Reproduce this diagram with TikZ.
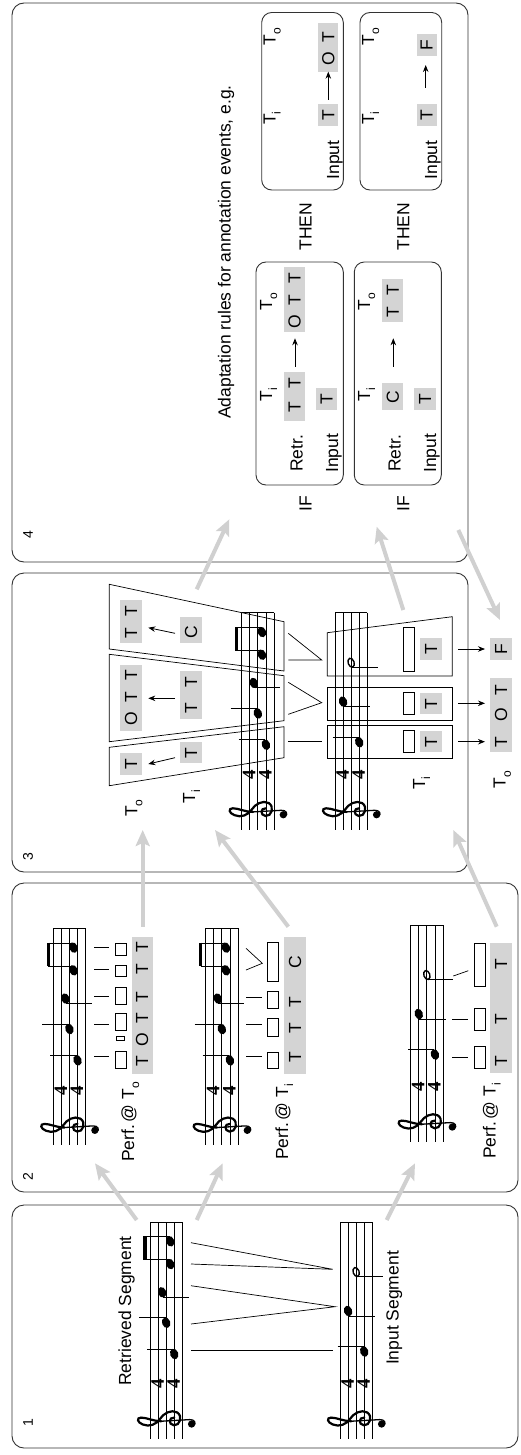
\documentclass[tikz,border=0pt]{standalone}
\usepackage{fontspec}
\setmainfont{Liberation Sans}
\newfontfamily\tsfamily{Liberation Serif}
\usetikzlibrary{arrows.meta}
\definecolor{lgray}{HTML}{D4D4D4}
\definecolor{agray}{HTML}{D0D0D0}
\newcommand{\sbs}[1]{\raisebox{-0.55ex}{\fontsize{12}{12}\selectfont #1}}
\newcommand{\fs}{\fontsize{17.5}{20}\selectfont}
\newcounter{lc}
\tikzset{
 txt/.style={rotate=90, inner sep=0pt, font=\fs},
 btxt/.style={rotate=90, inner sep=0pt, font=\fs, anchor=base},
 num/.style={rotate=90, inner sep=0pt, font=\fontsize{14}{16}\selectfont},
 panel/.style={draw=black!80, line width=0.9pt, rounded corners=12pt},
 rulebox/.style={draw=black!80, line width=0.9pt, rounded corners=10pt},
 wbox/.style={draw=black, line width=0.8pt},
 bigarrow/.style={draw=agray, line width=4pt, -{Stealth[length=16pt,width=14pt,inset=3pt]}},
 smallarrow/.style={draw=black, line width=0.8pt, -{Stealth[length=7pt,width=5.5pt]}},
 thinl/.style={line width=0.7pt},
 staffl/.style={line width=0.7pt},
 tsig/.style={rotate=90, inner sep=0pt, font=\tsfamily\bfseries\fontsize{19}{19}\selectfont},
}
\newcommand{\gl}[3]{\stepcounter{lc}\node[txt] (L\arabic{lc}) at (#1,#2) {#3};}
\newcommand{\Gclef}[2]{%
 \begin{scope}[shift={(#1,#2)}, scale=8.07]
 \draw[line width=2.2pt, line cap=round]
   (1.0,-0.3) .. controls (0.3,-0.35) and (0.25,0.55) .. (0.95,0.65)
   .. controls (1.7,0.75) and (2.1,-0.5) .. (1.35,-0.95)
   .. controls (0.6,-1.35) and (-0.35,-0.8) .. (-0.75,-0.15)
   .. controls (-1.2,0.55) and (-2.1,0.9) .. (-2.9,0.55)
   .. controls (-3.6,0.3) and (-3.7,-0.3) .. (-3.1,-0.3)
   .. controls (-2.4,-0.3) and (-1.6,0.15) .. (-0.6,0.15);
 \draw[line width=1.3pt, line cap=round] (-0.6,0.15) -- (2.9,-0.05)
   .. controls (3.5,-0.1) and (3.8,0.4) .. (3.4,0.7);
 \fill (3.15,0.5) circle [radius=0.45];
 \end{scope}}
\newcommand{\StaffLines}{%
 \foreach \k in {0,8.07,16.14,24.21,32.28} {\draw[staffl] (\k,0) -- (\k,217);}
 \draw[staffl] (0,0) -- (32.28,0);
 \node[tsig] at (7.5,162) {4};
 \node[tsig] at (23.6,162) {4};
 \Gclef{16.14}{198}}
\newcommand{\Qhead}[2]{\fill (#1,#2) circle [x radius=4.1, y radius=5.4, rotate=20];}
\newcommand{\RetrMusic}{%
 \StaffLines
 \Qhead{24.21}{132}\Qhead{16.14}{100.7}\Qhead{12.1}{70.3}\Qhead{20.18}{42}\Qhead{20.18}{19.3}
 \draw[thinl] (-3,127) -- (23.5,127);
 \draw[thinl] (-11,95.7) -- (15.5,95.7);
 \draw[thinl] (12.5,75) -- (38.5,75);
 \draw[thinl] (-5,37.7) -- (19.5,37.7);
 \draw[thinl] (-5,14.7) -- (19.5,14.7);
 \draw[line width=3.4pt] (-5,14.4) -- (-5,38);}
\newcommand{\InputMusic}{%
 \StaffLines
 \Qhead{24.21}{129.5}\Qhead{8.07}{89}
 \draw[line width=1.4pt] (16.14,50) circle [x radius=3.0, y radius=4.6, rotate=20];
 \draw[thinl] (-2.3,124.7) -- (23.7,124.7);
 \draw[thinl] (8.5,94) -- (35,94);
 \draw[thinl] (16.5,54.7) -- (42.7,54.7);}
\begin{document}
\begin{tikzpicture}[x=1pt,y=-1pt]
\useasboundingbox (0,0) rectangle (520,1455);
% ---------------- panels
\draw[panel] (12,1205) rectangle (518,1448);
\draw[panel] (12,883) rectangle (518,1192);
\draw[panel] (12,573) rectangle (468,872);
\draw[panel] (12,3) rectangle (468,562);
\node[num] (n1) at (28,1423) {1};
\node[num] (n2) at (28,1177) {2};
\node[num] (n3) at (28,857) {3};
\node[num] (n4) at (28,535) {4};
% ---------------- panel 1
\begin{scope}[shift={(150,1222)}]\RetrMusic\end{scope}
\begin{scope}[shift={(340,1222)}]\InputMusic\end{scope}
\node[btxt] (retlab) at (131,1311) {Retrieved Segment};
\node[btxt] (inplab) at (398.5,1308) {Input Segment};
\draw[thinl] (191,1242.7) -- (332.7,1269.3) -- (191,1264);
\draw[thinl] (191,1285.7) -- (335,1306.7) -- (191,1324);
\draw[thinl] (191,1350.7) -- (332.7,1350.7);
% ---------------- panel 2
\begin{scope}[shift={(53.3,928.3)}]\RetrMusic\end{scope}
\begin{scope}[shift={(205.7,928.3)}]\RetrMusic\end{scope}
\begin{scope}[shift={(410.7,925)}]\InputMusic\end{scope}
% staff A annotations
\foreach \y in {947.3,969.3,996.7,1024,1056.7} {\draw[thinl] (94,\y) -- (109,\y);}
\draw[wbox] (115,943.3) rectangle (126,955);
\draw[wbox] (115,965) rectangle (126,976);
\draw[wbox] (115,987.3) rectangle (126,1004);
\draw[wbox] (115,1013.3) rectangle (126,1030);
\draw[wbox] (116.5,1036) rectangle (124.5,1040.5);
\draw[wbox] (115,1051.7) rectangle (126,1068.3);
\fill[lgray] (131.7,936.7) rectangle (152.7,1074);
\gl{142}{947.3}{T}\gl{142}{969.3}{T}\gl{142}{996.7}{T}\gl{142}{1018}{T}\gl{142}{1039.3}{O}\gl{142}{1061}{T}
% staff B annotations
\draw[thinl] (246,948.3) -- (262.3,963.3) -- (246,970);
\foreach \y in {997.7,1024,1056.7} {\draw[thinl] (246,\y) -- (261.7,\y);}
\draw[wbox] (267.3,942.7) rectangle (278.3,981.7);
\draw[wbox] (267.3,991.7) rectangle (278.3,1008.3);
\draw[wbox] (267.3,1018.3) rectangle (278.3,1036);
\draw[wbox] (267.3,1052.7) rectangle (278.3,1068.3);
\fill[lgray] (284,936.7) rectangle (305.5,1074);
\gl{295}{961.7}{C}\gl{295}{1001.7}{T}\gl{295}{1028.3}{T}\gl{295}{1056.7}{T}
% staff C annotations
\draw[thinl] (453.3,976) -- (468.3,970.7);
\foreach \y in {1019.3,1057.3} {\draw[thinl] (452.3,\y) -- (468.3,\y);}
\draw[wbox] (474,943.3) rectangle (485,986.7);
\draw[wbox] (474,1008.3) rectangle (485,1030);
\draw[wbox] (474,1046.7) rectangle (485,1068.3);
\fill[lgray] (490,943.3) rectangle (511.7,1073.3);
\gl{501}{964.3}{T}\gl{501}{1019}{T}\gl{501}{1060.7}{T}
\node[btxt] (pa) at (134,1122) {Perf.\,@ T\sbs{o}};
\node[btxt] (pb) at (288,1122) {Perf.\,@ T\sbs{i}};
\node[btxt] (pc) at (495.5,1121) {Perf.\,@ T\sbs{i}};
% ---------------- panel 3
\begin{scope}[shift={(241.7,612.7)}]\RetrMusic\end{scope}
\begin{scope}[shift={(335,612.7)}]\InputMusic\end{scope}
\draw[thinl] (109.3,584.3) -- (284,621.7) -- (284,671) -- (109.3,649) -- cycle;
\draw[thinl] (109.3,654.3) -- (284,675.7) -- (284,720.7) -- (109.3,741.7) -- cycle;
\draw[thinl] (109.3,747.3) -- (284,726.7) -- (284,757.7) -- (109.3,785.7) -- cycle;
\fill[lgray] (120,600) rectangle (141.7,643.3);
\fill[lgray] (120,665) rectangle (141.7,730.7);
\fill[lgray] (120,753.3) rectangle (141.7,775);
\fill[lgray] (180,616.7) rectangle (201.7,643.3);
\fill[lgray] (180,671) rectangle (201.7,719.3);
\fill[lgray] (180,741.7) rectangle (201.7,763.3);
\gl{131}{611}{T}\gl{131}{633.3}{T}
\gl{131}{675}{T}\gl{131}{696.7}{T}\gl{131}{718.3}{O}
\gl{131}{764}{T}
\gl{191}{631.7}{C}\gl{191}{681.7}{T}\gl{191}{708.3}{T}\gl{191}{752.7}{T}
\coordinate (s1) at (175,633.3); \coordinate (e1) at (148.3,627.7);
\coordinate (s2) at (175,698.3); \coordinate (e2) at (148.3,698.3);
\coordinate (s3) at (175,757.7); \coordinate (e3) at (148.3,764);
\draw[smallarrow] (s1) -- (e1);
\draw[smallarrow] (s2) -- (e2);
\draw[smallarrow] (s3) -- (e3);
\draw[thinl] (288.3,633.3) -- (321.7,660) -- (288.3,660);
\draw[thinl] (288.3,682.3) -- (321.7,702.7) -- (288.3,714.3);
\draw[thinl] (288.3,741) -- (321.7,741);
\draw[thinl] (327.3,632.7) -- (452.3,616.7) -- (452.3,676) -- (327.3,676) -- cycle;
\draw[thinl] (327.3,687.7) rectangle (452.3,720);
\draw[thinl] (327.3,725.7) rectangle (452.3,758);
\draw[wbox] (403.3,627.3) rectangle (414.3,671);
\draw[wbox] (403.3,692.3) rectangle (414.3,714);
\draw[wbox] (403.3,730.7) rectangle (414.3,752.3);
\fill[lgray] (420,638.3) rectangle (441.7,660);
\fill[lgray] (420,693.3) rectangle (441.7,714.3);
\fill[lgray] (420,731) rectangle (441.7,752.3);
\gl{431}{649}{T}\gl{431}{703.8}{T}\gl{431}{741.7}{T}
\fill[lgray] (490,638.3) rectangle (511.7,660);
\fill[lgray] (490,677.7) rectangle (511.7,752.3);
\gl{501}{649}{F}\gl{501}{690}{T}\gl{501}{715}{O}\gl{501}{741.7}{T}
\coordinate (r1) at (458.3,649); \coordinate (q1) at (485,649);
\coordinate (r2) at (458.3,703.3); \coordinate (q2) at (485,703.3);
\coordinate (r3) at (458.3,741.7); \coordinate (q3) at (485,741.7);
\draw[smallarrow] (r1) -- (q1);
\draw[smallarrow] (r2) -- (q2);
\draw[smallarrow] (r3) -- (q3);
\node[btxt] (to3a) at (137.3,808.3) {T\sbs{o}};
\node[btxt] (ti3a) at (195,796.7) {T\sbs{i}};
\node[btxt] (ti3b) at (425,783.3) {T\sbs{i}};
\node[btxt] (to3b) at (505.7,780) {T\sbs{o}};
% ---------------- panel 4
\node[btxt] (title) at (230.5,252) {Adaptation rules for annotation events, e.g.};
\draw[rulebox] (256,262) rectangle (343.3,485);
\draw[rulebox] (354.3,262) rectangle (441.3,485);
\draw[rulebox] (261.7,12.5) rectangle (343.3,190);
\draw[rulebox] (360,12.5) rectangle (441.7,190);
\node[btxt] (if1) at (311.7,503.3) {IF};
\node[btxt] (if2) at (409.3,503.3) {IF};
\node[btxt] (then1) at (311.7,226.7) {THEN};
\node[btxt] (then2) at (409.3,226.7) {THEN};
% IF 1
\node[btxt] (retr1) at (302.5,453.3) {Retr.};
\node[btxt] (inp1) at (338,453.3) {Input};
\node[btxt] (ti41) at (272,395) {T\sbs{i}};
\node[btxt] (to41) at (272,301.7) {T\sbs{o}};
\fill[lgray] (284,371.7) rectangle (305,420.7);
\fill[lgray] (316,388.3) rectangle (337.3,410);
\fill[lgray] (284,266.7) rectangle (305,331.7);
\gl{294.5}{406.7}{T}\gl{294.5}{383.3}{T}\gl{326.7}{399}{T}
\gl{294.5}{321.7}{O}\gl{294.5}{300}{T}\gl{294.5}{278.3}{T}
\coordinate (u1) at (295,366.7); \coordinate (w1) at (295,338.3);
\draw[smallarrow] (u1) -- (w1);
% IF 2
\node[btxt] (retr2) at (400.5,453.3) {Retr.};
\node[btxt] (inp2) at (436,453.3) {Input};
\node[btxt] (ti42) at (370,395) {T\sbs{i}};
\node[btxt] (to42) at (370,301.7) {T\sbs{o}};
\fill[lgray] (382.3,382.7) rectangle (403.3,410);
\fill[lgray] (414.3,388.3) rectangle (435.7,410);
\fill[lgray] (382.3,279) rectangle (403.3,321.7);
\gl{392.8}{396.7}{C}\gl{425}{399}{T}
\gl{392.8}{311.7}{T}\gl{392.8}{290}{T}
\coordinate (u2) at (393.3,366.7); \coordinate (w2) at (393.3,338.3);
\draw[smallarrow] (u2) -- (w2);
% THEN 1
\node[btxt] (inp3) at (339,160) {Input};
\node[btxt] (ti43) at (275.5,118.3) {T\sbs{i}};
\node[btxt] (to43) at (275.5,36.7) {T\sbs{o}};
\fill[lgray] (318.3,104.3) rectangle (338.3,125.7);
\fill[lgray] (318.3,23.3) rectangle (338.3,71.7);
\gl{328.3}{115}{T}\gl{328.3}{58.3}{O}\gl{328.3}{36.7}{T}
\coordinate (u3) at (328.3,100); \coordinate (w3) at (328.3,71.7);
\draw[smallarrow] (u3) -- (w3);
% THEN 2
\node[btxt] (inp4) at (437,160) {Input};
\node[btxt] (ti44) at (374,118.3) {T\sbs{i}};
\node[btxt] (to44) at (374,36.7) {T\sbs{o}};
\fill[lgray] (416.7,104.3) rectangle (436.7,125.7);
\fill[lgray] (416.7,34.3) rectangle (436.7,55.7);
\gl{426.7}{115}{T}\gl{426.7}{45}{F}
\coordinate (u4) at (425.7,87.7); \coordinate (w4) at (425.7,65);
\draw[smallarrow] (u4) -- (w4);
% ---------------- big gray arrows
\coordinate (g1s) at (136.7,1220); \coordinate (g1e) at (95,1163.3);
\coordinate (g2s) at (196.7,1220); \coordinate (g2e) at (222.7,1163.3);
\coordinate (g3s) at (386.7,1220); \coordinate (g3e) at (415,1163.3);
\coordinate (g4s) at (142.7,926.7); \coordinate (g4e) at (142.7,830);
\coordinate (g5s) at (288.3,926.7); \coordinate (g5e) at (215,830);
\coordinate (g6s) at (496.7,926.7); \coordinate (g6e) at (453.3,830);
\coordinate (g7s) at (196.7,589.3); \coordinate (g7e) at (229.3,519.3);
\coordinate (g8s) at (403.3,610); \coordinate (g8e) at (376.7,526.7);
\coordinate (g9s) at (458.3,530); \coordinate (g9e) at (500,620);
\foreach \i in {1,...,9} {\draw[bigarrow] (g\i s) -- (g\i e);}
\end{tikzpicture}
\end{document}
